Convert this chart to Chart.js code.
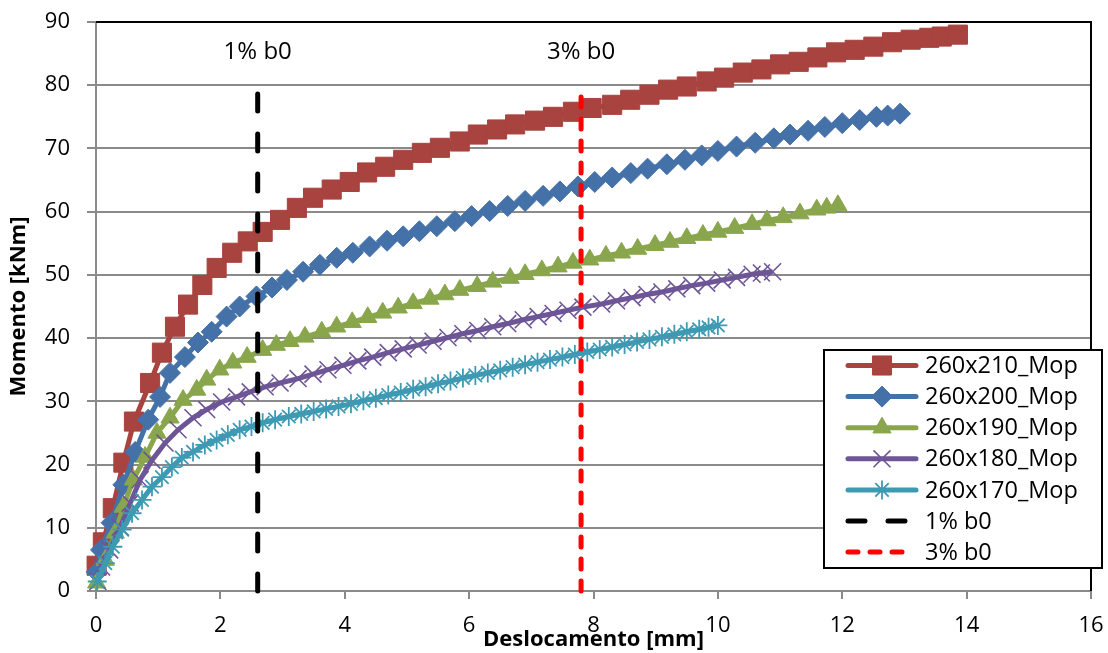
<!DOCTYPE html>
<html>
<head>
<meta charset="utf-8">
<script src="https://cdn.jsdelivr.net/npm/chart.js@4.4.1/dist/chart.umd.min.js"></script>
<style>
  html, body { margin: 0; padding: 0; background: #fff; }
  #wrap { width: 1108px; height: 653px; }
</style>
</head>
<body>
<div id="wrap"><canvas id="chart" width="1108" height="653"></canvas></div>
<script>
// Dados (deslocamento em mm, momento em kNm)
const labels = ['260x210_Mop', '260x200_Mop', '260x190_Mop', '260x180_Mop', '260x170_Mop', '1% b0', '3% b0'];

const x210 = [0.01,0.11,0.27,0.44,0.61,0.87,1.06,1.27,1.48,1.71,1.94,2.19,2.44,2.68,2.96,3.23,3.49,3.79,4.08,4.36,4.65,4.94,5.24,5.53,5.85,6.14,6.45,6.74,7.06,7.35,7.67,7.97,8.3,8.59,8.9,9.2,9.5,9.82,10.1,10.4,10.7,11.0,11.3,11.6,11.9,12.2,12.5,12.8,13.1,13.4,13.6,13.86];
const m210 = [4.0,7.7,13.1,20.3,26.8,32.9,37.7,41.8,45.3,48.4,51.1,53.5,55.3,56.8,58.7,60.6,62.2,63.5,64.7,66.2,67.1,68.2,69.3,70.1,71.1,72.2,73.0,73.8,74.4,75.0,75.8,76.4,76.9,77.7,78.5,79.3,79.8,80.6,81.2,82.0,82.5,83.3,83.7,84.4,85.2,85.6,86.1,86.8,87.2,87.5,87.7,88.0];

const x200 = [0.01,0.08,0.25,0.44,0.63,0.84,1.03,1.19,1.43,1.64,1.86,2.1,2.31,2.58,2.83,3.07,3.33,3.6,3.87,4.13,4.4,4.68,4.94,5.2,5.48,5.77,6.04,6.33,6.62,6.9,7.19,7.46,7.75,8.02,8.3,8.6,8.87,9.18,9.47,9.74,10.0,10.3,10.6,10.9,11.16,11.45,11.72,12.0,12.28,12.55,12.73,12.93];
const m200 = [3.0,6.5,10.8,16.8,22.0,27.1,30.7,34.5,37.0,39.3,41.0,43.4,45.0,46.6,48.0,49.2,50.5,51.6,52.7,53.5,54.5,55.4,56.1,56.9,57.7,58.5,59.3,60.1,60.9,61.7,62.5,63.2,64.0,64.7,65.4,66.1,66.8,67.5,68.2,68.9,69.6,70.3,70.9,71.6,72.2,72.8,73.4,74.0,74.5,75.0,75.2,75.5];

const x190 = [0.01,0.15,0.31,0.44,0.6,0.79,0.98,1.19,1.4,1.62,1.78,1.99,2.2,2.43,2.68,2.9,3.12,3.36,3.63,3.87,4.12,4.37,4.61,4.86,5.1,5.37,5.61,5.85,6.13,6.38,6.66,6.9,7.17,7.43,7.67,7.94,8.2,8.45,8.71,8.99,9.23,9.5,9.76,10.0,10.27,10.55,10.79,11.05,11.32,11.59,11.75,11.93];
const m190 = [1.3,4.9,9.2,13.3,17.6,21.2,25.0,27.4,30.2,31.8,33.4,35.0,36.1,37.0,38.1,38.9,39.5,40.2,41.0,41.8,42.5,43.3,44.0,44.8,45.5,46.2,46.9,47.6,48.2,48.9,49.5,50.1,50.7,51.3,51.9,52.4,53.0,53.5,54.1,54.7,55.2,55.8,56.3,56.8,57.4,58.0,58.6,59.1,59.7,60.3,60.6,61.0];

const x180 = [0.03,0.09,0.22,0.39,0.55,0.71,0.9,1.11,1.32,1.56,1.78,2.02,2.26,2.48,2.72,2.96,3.25,3.49,3.73,3.97,4.21,4.45,4.7,4.94,5.18,5.42,5.66,5.9,6.14,6.38,6.62,6.87,7.11,7.35,7.59,7.83,8.13,8.37,8.62,8.86,9.1,9.34,9.58,9.82,10.07,10.3,10.55,10.7,10.88];
const m180 = [1.5,3.8,6.5,10.1,13.9,17.6,20.7,23.4,25.5,27.4,28.7,29.9,30.7,31.5,32.3,32.9,33.6,34.3,35.0,35.7,36.4,37.0,37.7,38.3,38.9,39.5,40.1,40.7,41.2,41.8,42.3,42.9,43.4,43.9,44.4,44.9,45.4,45.9,46.4,46.9,47.3,47.8,48.3,48.7,49.2,49.6,50.1,50.3,50.5];

const x170 = [0.02,0.15,0.27,0.42,0.58,0.74,0.9,1.06,1.22,1.38,1.56,1.75,1.94,2.12,2.31,2.5,2.68,2.88,3.1,3.3,3.5,3.7,3.9,4.1,4.3,4.5,4.7,4.9,5.1,5.3,5.5,5.7,5.9,6.1,6.3,6.5,6.7,6.9,7.1,7.3,7.5,7.7,7.9,8.1,8.3,8.5,8.7,8.9,9.1,9.3,9.5,9.7,9.85,10.0];
const m170 = [1.5,4.4,7.0,9.7,12.3,14.4,16.5,18.0,19.6,21.1,22.0,23.1,23.9,24.7,25.5,26.0,26.6,27.1,27.6,28.0,28.4,28.8,29.2,29.6,30.1,30.5,31.0,31.4,31.9,32.3,32.8,33.2,33.7,34.1,34.5,34.9,35.4,35.8,36.2,36.6,37.0,37.4,37.8,38.2,38.6,39.0,39.4,39.8,40.2,40.6,41.0,41.4,41.7,42.0];

// linhas de referência verticais
const xRef1 = [2.6, 2.6];
const xRef3 = [7.8, 7.8];
const mRef = [0, 80];
const refLabelY = 85.3;

// eixos
const xTicks = [0, 16, 2];
const yTicks = [0, 90, 10];

const colors = ['#A8433F', '#4571A9', '#89A64C', '#6D5596', '#3E9AB3', '#000000', '#FF0000'];

const FONT = '"Open Sans", "Liberation Sans", sans-serif';

function toPoints(xs, ys) {
    return xs.map((x, i) => ({ x: x, y: ys[i] }));
}

function serie(i, xs, ys, style, radius, pbw) {
    return {
        label: labels[i],
        data: toPoints(xs, ys),
        showLine: true,
        borderColor: colors[i],
        backgroundColor: colors[i],
        borderWidth: 5,
        pointStyle: style,
        pointRadius: radius,
        pointHoverRadius: radius,
        pointBorderWidth: pbw,
        pointBorderColor: colors[i],
        pointBackgroundColor: colors[i],
        order: 10 - i,
        clip: false
    };
}

function refLine(i, xs, dash) {
    return {
        label: labels[i],
        data: toPoints(xs, mRef),
        showLine: true,
        borderColor: colors[i],
        borderWidth: 5,
        borderDash: dash,
        borderCapStyle: 'round',
        pointRadius: 0,
        order: 10 - i,
        clip: false
    };
}

const datasets = [
    serie(0, x210, m210, 'rect', 13.5, 1),
    serie(1, x200, m200, 'rectRot', 10.5, 1),
    serie(2, x190, m190, 'triangle', 10.5, 1),
    serie(3, x180, m180, 'crossRot', 12, 1.6),
    serie(4, x170, m170, 'star', 9.5, 1.8),
    refLine(5, xRef1, [17, 23]),
    refLine(6, xRef3, [10, 12])
];

// borda da área do gráfico, rótulos das linhas e legenda
const extras = {
    id: 'extras',
    beforeDatasetsDraw(chart) {
        const ctx = chart.ctx;
        const a = chart.chartArea;
        ctx.save();
        ctx.strokeStyle = '#000';
        ctx.lineWidth = 2;
        ctx.beginPath();
        ctx.moveTo(a.left, a.top);
        ctx.lineTo(a.right, a.top);
        ctx.lineTo(a.right, a.bottom);
        ctx.stroke();
        ctx.restore();
    },
    afterDatasetsDraw(chart) {
        const ctx = chart.ctx;
        const xs = chart.scales.x;
        const ys = chart.scales.y;
        ctx.save();
        ctx.font = '24px ' + FONT;
        ctx.fillStyle = '#000';
        ctx.textAlign = 'center';
        ctx.textBaseline = 'middle';
        ctx.fillText('1% b0', xs.getPixelForValue(xRef1[0]), ys.getPixelForValue(refLabelY));
        ctx.fillText('3% b0', xs.getPixelForValue(xRef3[0]), ys.getPixelForValue(refLabelY));

        // legenda
        const box = { left: 824, top: 350, right: 1102, bottom: 568 };
        ctx.fillStyle = '#fff';
        ctx.fillRect(box.left, box.top, box.right - box.left, box.bottom - box.top);
        ctx.strokeStyle = '#000';
        ctx.lineWidth = 2;
        ctx.strokeRect(box.left, box.top, box.right - box.left, box.bottom - box.top);

        chart.data.datasets.forEach((ds, i) => {
            const y = 365.5 + i * 31.1;
            ctx.save();
            ctx.strokeStyle = ds.borderColor;
            ctx.lineWidth = 5;
            ctx.lineCap = 'round';
            if (ds.borderDash) {
                ctx.setLineDash(i === 5 ? [17, 23] : [10, 12]);
            }
            ctx.beginPath();
            ctx.moveTo(848, y);
            ctx.lineTo(i === 6 ? 912 : 916, y);
            ctx.stroke();
            ctx.restore();
            if (ds.pointRadius > 0) {
                ctx.save();
                ctx.fillStyle = ds.pointBackgroundColor;
                ctx.strokeStyle = ds.pointBorderColor;
                ctx.lineWidth = ds.pointBorderWidth;
                Chart.helpers.drawPoint(ctx, {
                    pointStyle: ds.pointStyle,
                    radius: ds.pointRadius,
                    rotation: 0,
                    borderWidth: ds.pointBorderWidth
                }, 882, y);
                ctx.restore();
            }
            ctx.fillStyle = '#000';
            ctx.font = '23.5px ' + FONT;
            ctx.textAlign = 'left';
            ctx.textBaseline = 'middle';
            ctx.fillText(ds.label, 925, y + 1);
        });
        ctx.restore();
    }
};

new Chart(document.getElementById('chart'), {
    type: 'scatter',
    data: { datasets: datasets },
    plugins: [extras],
    options: {
        responsive: false,
        animation: false,
        events: [],
        layout: { padding: { left: 0, top: 22, right: 17, bottom: 0 } },
        plugins: {
            legend: { display: false },
            tooltip: { enabled: false }
        },
        scales: {
            x: {
                type: 'linear',
                min: xTicks[0],
                max: xTicks[1],
                ticks: {
                    stepSize: xTicks[2],
                    color: '#000',
                    font: { family: FONT, size: 22 },
                    padding: 14
                },
                grid: {
                    drawOnChartArea: false,
                    drawTicks: true,
                    tickLength: 8,
                    color: '#8a8a8a',
                    lineWidth: 2
                },
                border: { color: '#8a8a8a', width: 2 },
                title: {
                    display: true,
                    text: 'Deslocamento [mm]',
                    color: '#000',
                    font: { family: FONT, size: 22, weight: 'bold' },
                    padding: { top: 0, bottom: 0 }
                },
                afterFit(scale) {
                    scale.height = 62;
                    scale.paddingLeft = 0;
                    scale.paddingRight = 0;
                }
            },
            y: {
                min: yTicks[0],
                max: yTicks[1],
                ticks: {
                    stepSize: yTicks[2],
                    color: '#000',
                    font: { family: FONT, size: 22 },
                    padding: 17
                },
                grid: {
                    color: '#8a8a8a',
                    lineWidth: 2,
                    tickLength: 9
                },
                border: { color: '#8a8a8a', width: 2 },
                title: {
                    display: true,
                    text: 'Momento [kNm]',
                    color: '#000',
                    font: { family: FONT, size: 22, weight: 'bold' },
                    padding: { top: 6, bottom: 0 }
                },
                afterFit(scale) {
                    scale.width = 96;
                    scale.paddingTop = 0;
                    scale.paddingBottom = 0;
                }
            }
        }
    }
});
</script>
</body>
</html>
